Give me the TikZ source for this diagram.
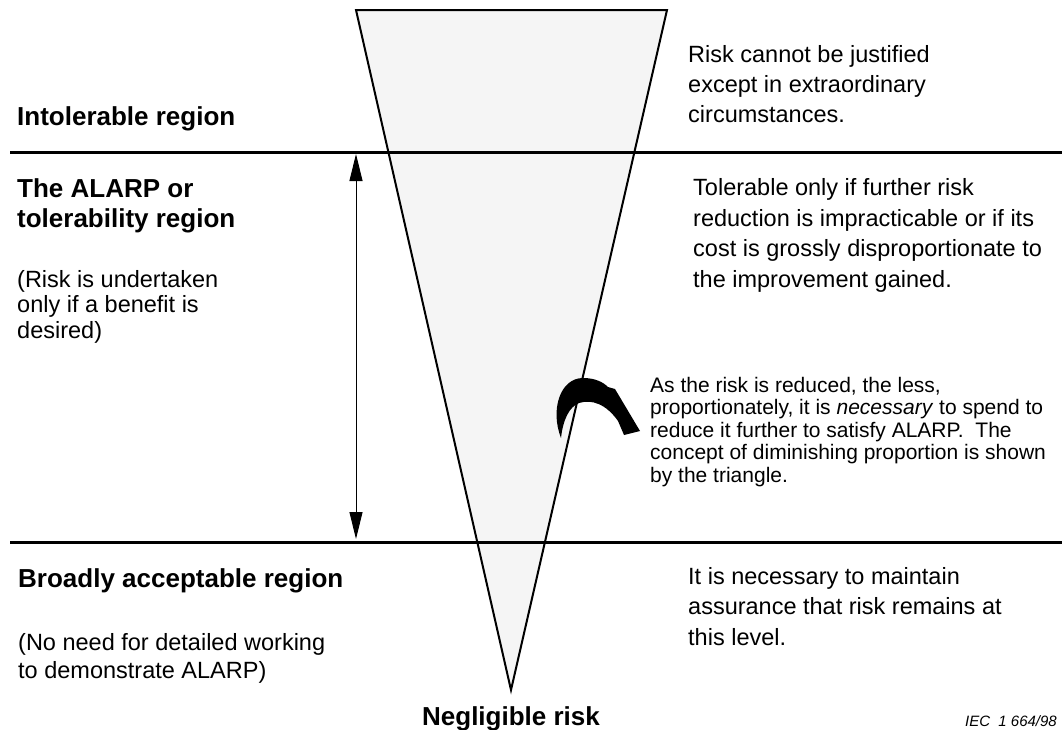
\documentclass[tikz,border=0pt]{standalone}
\usepackage{fontspec}
\setmainfont{Liberation Sans}
\definecolor{trigrey}{RGB}{245, 245, 245}
\usetikzlibrary{arrows.meta, positioning}

\tikzset{
  regionlabel/.style={anchor=base west, inner sep=0pt, align=left, font=\bfseries\fontsize{26}{30}\selectfont},
  regionnote/.style={anchor=base west, inner sep=0pt, align=left, font=\fontsize{23.5}{25.5}\selectfont},
  rightnote/.style={anchor=base west, inner sep=0pt, align=left, font=\fontsize{23.5}{30.5}\selectfont},
  smallnote/.style={anchor=base west, inner sep=0pt, align=left, font=\fontsize{21}{22.5}\selectfont},
  divider/.style={line width=3pt},
}

\begin{document}
\begin{tikzpicture}[x=1pt, y=-1pt]
  \useasboundingbox (0,0) rectangle (1062,729);

  % Triangle of diminishing proportion
  \coordinate (tl) at (356, 10);
  \coordinate (tr) at (667, 10);
  \coordinate (apex) at (511, 690);
  \draw[fill=trigrey, line width=2pt, line join=miter] (tl) -- (tr) -- (apex) -- cycle;

  % Region dividers
  \draw[divider] (10, 152) -- (1062, 152);
  \draw[divider] (10, 542) -- (1062, 542);

  % ALARP span
  \coordinate (spantop) at (356, 154);
  \coordinate (spanbot) at (356, 539);
  \draw[line width=1pt, {Triangle[length=27pt, width=13pt]}-{Triangle[length=27pt, width=13pt]}] (spantop) -- (spanbot);

  % Left column (base = last line)
  \node[regionlabel] (intol) at (17, 125) {Intolerable region};
  \node[regionlabel] (alarp) at (17, 227) {The ALARP or\\tolerability region};
  \node[regionnote] (alarpnote) at (17, 338) {(Risk is undertaken\\only if a benefit is\\desired)};
  \node[regionlabel] (broad) at (18, 587) {Broadly acceptable region};
  \node[regionnote, font=\fontsize{23.5}{28}\selectfont] (broadnote) at (18, 678) {(No need for detailed working\\to demonstrate ALARP)};

  % Right column
  \node[rightnote, font=\fontsize{23.5}{30}\selectfont] (intoltext) at (688, 122) {Risk cannot be justified\\except in extraordinary\\circumstances.};
  \node[rightnote] (alarptext) at (693, 287) {Tolerable only if further risk\\reduction is impracticable or if its\\cost is grossly disproportionate to\\the improvement gained.};
  \node[smallnote] (costtext) at (650, 482) {As the risk is reduced, the less,\\proportionately, it is \textit{necessary} to spend to\\reduce it further to satisfy ALARP.\ \ The\\concept of diminishing proportion is shown\\by the triangle.};
  \node[rightnote] (broadtext) at (688, 645) {It is necessary to maintain\\assurance that risk remains at\\this level.};

  % Curved pointer
  \fill (561,438) .. controls (550,410) and (560,378) .. (583,378)
    .. controls (595,378) and (603,382) .. (608,387) -- (615,389) -- (640,431)
    -- (624,435) -- (618,421) .. controls (606,404) and (592,399) .. (579,403)
    .. controls (569,407) and (563,420) .. (561,438) -- cycle;

  \node[font=\bfseries\fontsize{26}{30}\selectfont, anchor=base, inner sep=0pt] (neglig) at (511, 725) {Negligible risk};
  \node[font=\itshape\fontsize{15}{18}\selectfont, anchor=base east, inner sep=0pt] (iec) at (1057, 726) {IEC\ \ 1 664/98};
\end{tikzpicture}
\end{document}
